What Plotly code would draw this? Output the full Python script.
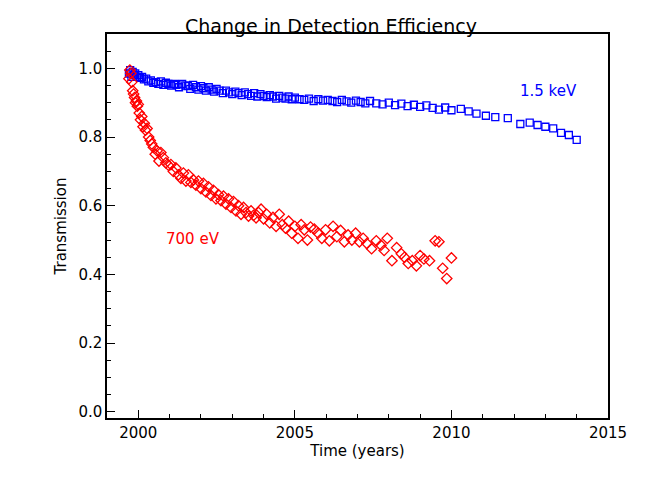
import plotly.graph_objects as go

blue_t = [1999.70,1999.74,1999.78,1999.82,1999.86,1999.90,1999.95,2000.00,2000.06,2000.12,2000.18,2000.25,2000.32,2000.40,2000.48,2000.56,2000.64,2000.72,2000.80,2000.88,2000.96,2001.05,2001.14,2001.22,2001.30,2001.40,2001.50,2001.58,2001.66,2001.75,2001.84,2001.92,2002.00,2002.08,2002.16,2002.25,2002.34,2002.42,2002.50,2002.60,2002.70,2002.80,2002.90,2003.00,2003.10,2003.20,2003.30,2003.40,2003.50,2003.60,2003.70,2003.80,2003.90,2004.00,2004.10,2004.20,2004.30,2004.40,2004.50,2004.60,2004.70,2004.80,2004.90,2005.00,2005.15,2005.30,2005.45,2005.60,2005.75,2005.90,2006.05,2006.20,2006.35,2006.50,2006.65,2006.80,2006.95,2007.10,2007.25,2007.40,2007.60,2007.80,2008.00,2008.20,2008.40,2008.60,2008.80,2009.00,2009.20,2009.40,2009.60,2009.80,2010.00,2010.30,2010.55,2010.80,2011.10,2011.40,2011.80,2012.20,2012.50,2012.75,2013.00,2013.25,2013.50,2013.75,2014.00]
blue_v = [0.985,0.995,0.975,0.990,0.980,0.985,0.975,0.980,0.972,0.975,0.968,0.970,0.962,0.965,0.958,0.960,0.955,0.962,0.952,0.958,0.955,0.950,0.955,0.952,0.945,0.955,0.950,0.948,0.940,0.952,0.945,0.938,0.948,0.942,0.935,0.945,0.938,0.932,0.940,0.935,0.928,0.935,0.930,0.925,0.932,0.928,0.922,0.930,0.925,0.920,0.928,0.918,0.925,0.920,0.916,0.922,0.918,0.912,0.920,0.915,0.912,0.918,0.910,0.915,0.910,0.908,0.912,0.905,0.910,0.906,0.908,0.905,0.902,0.908,0.904,0.900,0.906,0.902,0.898,0.905,0.898,0.895,0.900,0.893,0.897,0.890,0.894,0.888,0.892,0.885,0.880,0.886,0.878,0.882,0.875,0.868,0.862,0.858,0.855,0.838,0.842,0.835,0.830,0.825,0.812,0.806,0.792]

red_t = [1999.70,1999.73,1999.76,1999.79,1999.82,1999.85,1999.88,1999.91,1999.94,1999.97,2000.00,2000.03,2000.07,2000.11,2000.15,2000.19,2000.23,2000.28,2000.33,2000.38,2000.43,2000.48,2000.54,2000.60,2000.66,2000.72,2000.80,2000.88,2000.96,2001.04,2001.12,2001.20,2001.28,2001.36,2001.44,2001.52,2001.60,2001.68,2001.76,2001.84,2001.92,2002.00,2002.08,2002.16,2002.24,2002.32,2002.40,2002.48,2002.56,2002.64,2002.72,2002.80,2002.88,2002.96,2003.04,2003.12,2003.20,2003.28,2003.36,2003.44,2003.52,2003.60,2003.68,2003.76,2003.84,2003.92,2004.00,2004.10,2004.20,2004.30,2004.40,2004.50,2004.60,2004.70,2004.80,2004.90,2005.00,2005.10,2005.20,2005.30,2005.40,2005.50,2005.62,2005.74,2005.86,2005.98,2006.10,2006.22,2006.34,2006.46,2006.58,2006.70,2006.82,2006.94,2007.06,2007.18,2007.30,2007.45,2007.60,2007.75,2007.85,2007.95,2008.10,2008.25,2008.40,2008.50,2008.62,2008.75,2008.88,2009.00,2009.12,2009.30,2009.48,2009.60,2009.72,2009.85,2010.00]
red_v = [0.970,0.995,0.985,0.960,0.935,0.925,0.915,0.900,0.905,0.890,0.895,0.870,0.850,0.860,0.830,0.840,0.820,0.825,0.800,0.790,0.780,0.770,0.750,0.760,0.730,0.755,0.740,0.725,0.718,0.720,0.700,0.710,0.690,0.680,0.695,0.672,0.690,0.668,0.675,0.660,0.672,0.650,0.665,0.640,0.655,0.630,0.645,0.620,0.632,0.615,0.628,0.605,0.620,0.595,0.612,0.585,0.600,0.575,0.595,0.580,0.570,0.585,0.572,0.565,0.580,0.590,0.562,0.575,0.550,0.566,0.540,0.575,0.545,0.535,0.555,0.520,0.540,0.505,0.545,0.530,0.500,0.538,0.532,0.520,0.505,0.530,0.498,0.540,0.510,0.528,0.495,0.515,0.500,0.520,0.495,0.505,0.490,0.475,0.498,0.485,0.470,0.505,0.440,0.478,0.460,0.450,0.432,0.440,0.425,0.455,0.445,0.440,0.498,0.495,0.418,0.388,0.448,0.482]
n = min(len(red_t), len(red_v))
red_t, red_v = red_t[:n], red_v[:n]

font = "DejaVu Sans"
fig = go.Figure()
fig.add_trace(go.Scatter(x=blue_t, y=blue_v, mode="markers",
    marker=dict(symbol="square-open", size=7, color="#0000ff", line=dict(width=1.3))))
fig.add_trace(go.Scatter(x=red_t, y=red_v, mode="markers",
    marker=dict(symbol="diamond-open", size=8, color="#ff0000", line=dict(width=1.3))))
fig.add_annotation(x=2013.1, y=0.933, text="1.5 keV", showarrow=False,
    font=dict(color="#0000ff", size=15, family=font))
fig.add_annotation(x=2001.75, y=0.503, text="700 eV", showarrow=False,
    font=dict(color="#ff0000", size=15, family=font))
axis = dict(showline=True, mirror=True, linecolor="black", linewidth=1.5, showgrid=False,
            zeroline=False, ticks="inside", tickcolor="black", ticklen=8, automargin=False,
            tickfont=dict(size=15, family=font, color="black"))
fig.update_xaxes(range=[1999, 2015], tickvals=[2000, 2005, 2010, 2015],
    minor=dict(dtick=1, ticks="inside", ticklen=4, tickcolor="black"),
    title=dict(text="Time (years)", font=dict(size=15, family=font, color="black"), standoff=2), **axis)
fig.update_yaxes(range=[-0.018, 1.1], tickvals=[0, 0.2, 0.4, 0.6, 0.8, 1.0], tickformat=".1f",
    minor=dict(dtick=0.05, ticks="inside", ticklen=4, tickcolor="black"),
    title=dict(text="Transmission", font=dict(size=15, family=font, color="black"), standoff=8), **axis)
fig.update_layout(width=646, height=485, showlegend=False, plot_bgcolor="white", paper_bgcolor="white",
    margin=dict(l=99, r=46, t=26, b=75),
    title=dict(text="Change in Detection Efficiency", x=0.5, xanchor="center", y=0.975,
               font=dict(size=19, family=font, color="black")))
fig.write_html("out.html")
